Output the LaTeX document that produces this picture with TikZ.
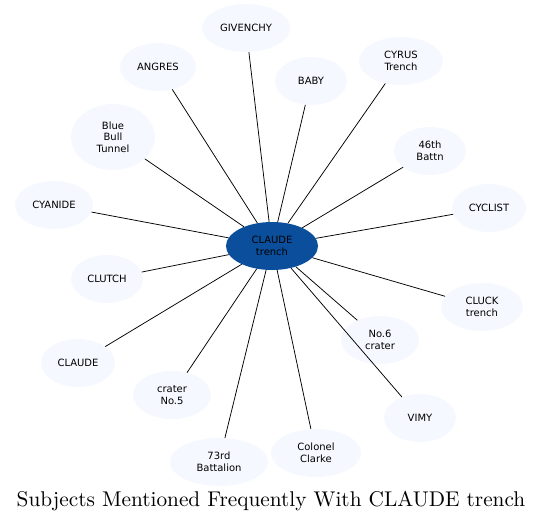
\documentclass[tikz,border=0pt]{standalone}
\usepackage{fontspec}
\newfontfamily\leaffont{DejaVu Sans}
\usetikzlibrary{shapes.geometric}
\definecolor{hubblue}{HTML}{0B4F9C}
\definecolor{leafblue}{HTML}{F5F8FE}
% name/x/y/width/height/text (pixel grid, y downwards)
\def\Subjects{givenchy/246/28/88/48/GIVENCHY,
  angres/158/67/76/48/ANGRES,
  baby/311/81/72/48/BABY,
  cyrus/401/61/84/48/{CYRUS\\Trench},
  bluebull/113/137/84/66/{Blue\\Bull\\Tunnel},
  battn/430/151/72/48/{46th\\Battn},
  cyanide/54/205/78/48/CYANIDE,
  cyclist/489/208/74/48/CYCLIST,
  clutch/107/279/72/48/CLUTCH,
  cluck/482/307/82/48/{CLUCK\\trench},
  nosix/380/340/78/48/{No.6\\crater},
  claude/78/363/74/48/CLAUDE,
  nofive/172/395/78/48/{crater\\No.5},
  vimy/420/418/72/48/VIMY,
  clarke/316/453/90/48/{Colonel\\Clarke},
  battalion/219/462/98/48/{73rd\\Battalion}}

\begin{document}
\begin{tikzpicture}[
  x=1pt, y=-1pt,
  leaf/.style ={ellipse, fill=leafblue, draw=none, inner sep=0pt,
                align=center, font=\leaffont\fontsize{10}{11.5}\selectfont},
  hub/.style  ={ellipse, fill=hubblue, draw=none, inner sep=0pt,
                align=center, font=\leaffont\fontsize{10}{11.5}\selectfont,
                minimum width=92pt, minimum height=48pt},
  spoke/.style={black, line width=0.75pt}
]
\useasboundingbox (0,0) rectangle (543,523);

% --- Hub and subjects ----------------------------------------------
\node[hub] (hub) at (272,246) {CLAUDE\\trench};
\foreach \name/\x/\y/\w/\h/\txt in \Subjects
  \node[leaf, minimum width=\w pt, minimum height=\h pt] (\name) at (\x,\y) {\txt};

% --- Spokes ----------------------------------------------------------
\foreach \name/\x/\y/\w/\h/\txt in \Subjects
  \draw[spoke] (hub) -- (\name);

% --- Title -----------------------------------------------------------
\node[font=\fontsize{10}{12}\selectfont, scale=2.13, transform shape] (title)
  at (271,501) {Subjects Mentioned Frequently With CLAUDE trench};
\end{tikzpicture}
\end{document}
